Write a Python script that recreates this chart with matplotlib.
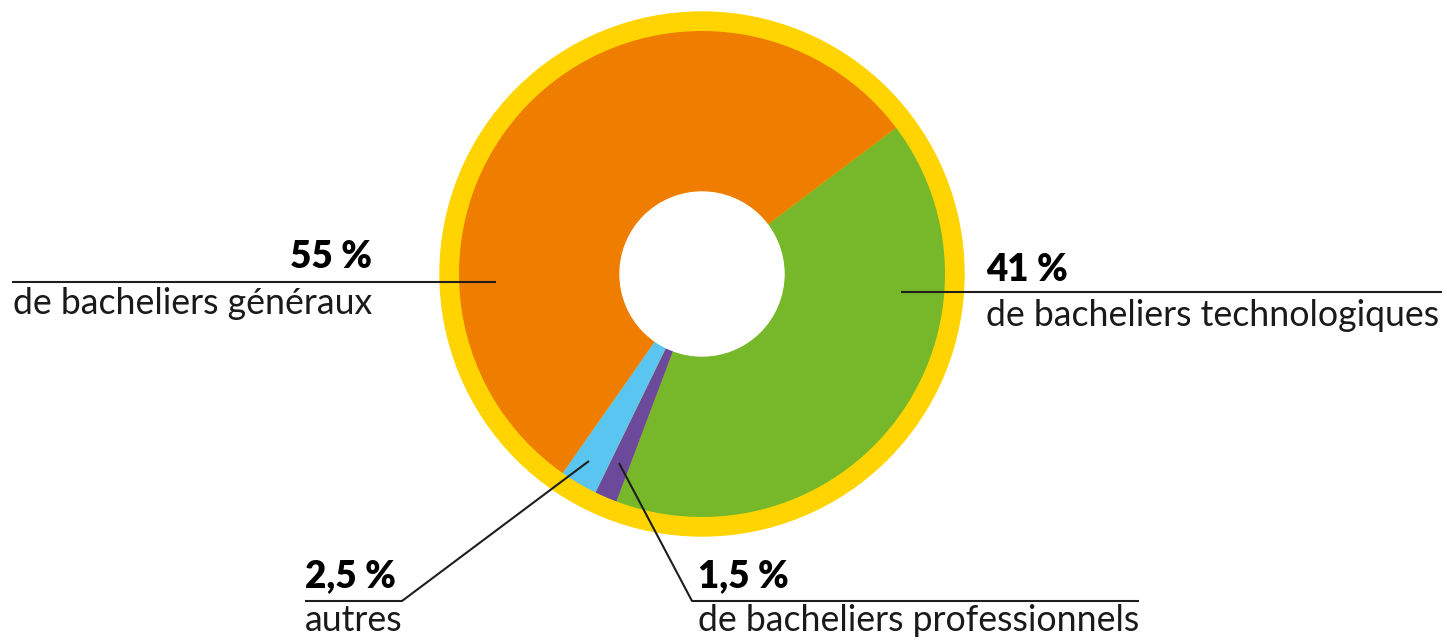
"""Donut chart: répartition des bacheliers (55 / 41 / 1,5 / 2,5 %)."""

import matplotlib
matplotlib.use("Agg")
import matplotlib.pyplot as plt
from matplotlib.patches import Circle

# --- data (clockwise from the orange/green boundary) ---
categories = ["technologiques", "professionnels", "autres", "généraux"]
shares     = [41, 1.5, 2.5, 55]
captions   = ["de bacheliers technologiques", "de bacheliers professionnels",
              "autres", "de bacheliers généraux"]
colors     = ["#77B82A", "#6B4A9B", "#5BC5F1", "#EF7D00"]
RING       = "#FFD400"

W, H = 1447, 640
plt.rcParams["font.family"] = ["Lato", "DejaVu Sans"]

fig = plt.figure(figsize=(W / 100, H / 100), dpi=100)
ax = fig.add_axes([0, 0, 1, 1])

cx, cy = 702, 274          # pixel coords, y down
r_out, r_pie, r_hole = 262, 243, 82

ax.add_patch(Circle((cx, cy), r_out, color=RING, zorder=0))
# y axis inverted below -> counterclock=True is clockwise on screen
ax.pie(shares, colors=colors, startangle=-37, counterclock=True,
       radius=r_pie, center=(cx, cy),
       wedgeprops=dict(width=r_pie - r_hole, linewidth=0))
ax.add_patch(Circle((cx, cy), r_hole, color="white", zorder=3))

ax.set_xlim(0, W)
ax.set_ylim(H, 0)
ax.set_aspect("equal")
ax.axis("off")

def pct(v):
    return f"{v:g}".replace(".", ",") + " %"

LC = "#1e1e1e"
LW = 1.5
BIG, SMALL = 26.5, 25.7

# leader lines: (x, y) polylines in pixel coords
leaders = {
    "technologiques": ([901, 1442], [292, 292]),
    "professionnels": ([619, 692, 1139], [463, 601, 601]),
    "autres":         ([589, 402, 305], [461, 601, 601]),
    "généraux":       ([12, 496], [282, 282]),
}
# label anchors: (x, baseline of pct, baseline of caption, ha)
anchors = {
    "technologiques": (986, 281, 326, "left"),
    "professionnels": (698, 587, 631, "left"),
    "autres":         (305, 587, 631, "left"),
    "généraux":       (372, 268, 314, "right"),
}

for cat, v, cap in zip(categories, shares, captions):
    xs, ys = leaders[cat]
    ax.plot(xs, ys, color=LC, lw=LW, solid_capstyle="butt", zorder=5)
    x, yp, yc, ha = anchors[cat]
    ax.text(x, yp, pct(v), ha=ha, va="baseline", fontsize=BIG,
            fontweight="heavy", color="black")
    xc = 13 if cat == "généraux" else x
    ax.text(xc, yc, cap, ha="left", va="baseline", fontsize=SMALL,
            color="#1a1a1a")

fig.savefig("out.png", dpi=100)
plt.close()
